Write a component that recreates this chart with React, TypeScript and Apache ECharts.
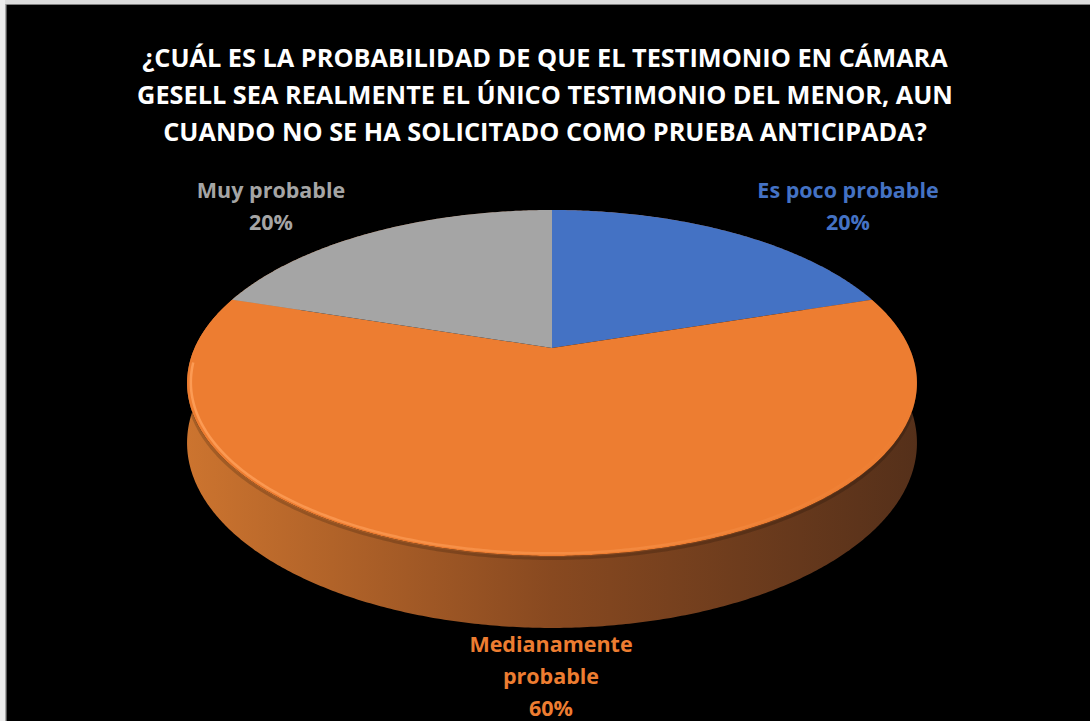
import React, { useEffect, useRef } from "react";
import * as echarts from "echarts";

const TITLE =
  "¿CUÁL ES LA PROBABILIDAD DE QUE EL TESTIMONIO EN CÁMARA\nGESELL SEA REALMENTE EL ÚNICO TESTIMONIO DEL MENOR, AUN\nCUANDO NO SE HA SOLICITADO COMO PRUEBA ANTICIPADA?";
const CATEGORIES = ["Es poco probable", "Medianamente probable", "Muy probable"];
const VALUES = [20, 60, 20];
const COLORS = ["#4472C4", "#ED7D31", "#A5A5A5"];

const TOTAL = VALUES.reduce((a, b) => a + b, 0);
const STARTS = VALUES.map((_, i) => VALUES.slice(0, i).reduce((a, b) => a + b, 0) / TOTAL * 360);

// 3D pie projection layout
const CX = 552;
const CY = 348;
const AY = 165.9;
const BX = 357.4;
const K = 0.2023;
const DEPTH = 57.4;
const LABEL_POS = [
  [848, 205],
  [551, 675],
  [271, 205],
];
const LABEL_FONT = 'bold 21.5px "Open Sans"';

function proj(deg: number, r = 1): number[] {
  const p = (deg * Math.PI) / 180;
  const u = r * Math.sin(p);
  const v = r * Math.cos(p);
  const s = 1 / (1 + K * v);
  return [CX + BX * u * s, CY - AY * v * s];
}
function depth(deg: number): number {
  const p = (deg * Math.PI) / 180;
  return DEPTH / (1 + K * Math.cos(p));
}
function arc(a0: number, a1: number, r = 1): number[][] {
  const pts: number[][] = [];
  const n = Math.max(2, Math.ceil(Math.abs(a1 - a0) / 0.5));
  for (let j = 0; j <= n; j++) pts.push(proj(a0 + ((a1 - a0) * j) / n, r));
  return pts;
}

export default function App() {
  const ref = useRef<HTMLDivElement>(null);
  useEffect(() => {
    if (!ref.current) return;
    const chart = echarts.init(ref.current, undefined, { renderer: "svg" });
    const sideGrad = () =>
      new echarts.graphic.LinearGradient(0, 0, 1, 0, [
        { offset: 0, color: "#cc742f" },
        { offset: 0.5, color: "#884920" },
        { offset: 1, color: "#55301a" },
      ]);
    const option: any = {
      animation: false,
      backgroundColor: "#000000",
      graphic: [
        { type: "rect", shape: { x: 0, y: 0, width: 1090, height: 4 }, style: { fill: "#dcdcdc" }, z: 100 },
        { type: "rect", shape: { x: 0, y: 4, width: 1090, height: 1 }, style: { fill: "#808080" }, z: 100 },
        { type: "rect", shape: { x: 0, y: 0, width: 5, height: 721 }, style: { fill: "#ececec" }, z: 100 },
        { type: "rect", shape: { x: 5, y: 4, width: 1.5, height: 717 }, style: { fill: "#a8a8a8" }, z: 100 },
        {
          type: "text",
          x: 545,
          y: 94,
          style: {
            text: TITLE,
            fill: "#ffffff",
            font: 'bold 25.3px "Open Sans"',
            align: "center",
            verticalAlign: "middle",
            lineHeight: 37,
          },
          z: 50,
        },
      ],
      series: [
        {
          type: "custom",
          coordinateSystem: "none",
          data: VALUES.map((v, i) => ({ name: CATEGORIES[i], value: v })),
          renderItem: (params: any, api: any) => {
            const i = params.dataIndex;
            const v = api.value(0);
            const a0 = STARTS[i];
            const a1 = a0 + (v / TOTAL) * 360;
            const top = arc(a0, a1);
            const bottom = top
              .map((p, j) => {
                const deg = a0 + ((a1 - a0) * j) / (top.length - 1);
                return [p[0], p[1] + depth(deg)];
              })
              .reverse();
            const children: any[] = [
              {
                type: "polygon",
                shape: { points: top.concat(bottom) },
                style: { fill: sideGrad() },
                z2: 1,
              },
              {
                type: "polygon",
                shape: { points: [[CX, CY]].concat(top) },
                style: { fill: COLORS[i] },
                z2: 10,
              },
            ];
            // front rim highlight (bevel)
            const fa0 = Math.max(a0, 95);
            const fa1 = Math.min(a1, 265);
            if (fa1 > fa0) {
              children.push({
                type: "polyline",
                shape: { points: arc(fa0, fa1, 0.99) },
                style: {
                  fill: null,
                  lineWidth: 2.5,
                  stroke: new echarts.graphic.LinearGradient(0, 0, 1, 0, [
                    { offset: 0, color: "rgba(255,160,90,0.85)" },
                    { offset: 0.55, color: "rgba(255,160,90,0.4)" },
                    { offset: 1, color: "rgba(255,160,90,0)" },
                  ]),
                },
                z2: 11,
              });
              children.push({
                type: "polyline",
                shape: { points: arc(fa0, fa1, 1).map((p) => [p[0], p[1] + 2.5]) },
                style: {
                  fill: null,
                  lineWidth: 3,
                  stroke: "rgba(0,0,0,0.18)",
                },
                z2: 2,
              });
            }
            const pct = Math.round((v / TOTAL) * 100) + "%";
            const name = CATEGORIES[i].length > 18 ? CATEGORIES[i].replace(" ", "\n") : CATEGORIES[i];
            children.push({
              type: "text",
              x: LABEL_POS[i][0],
              y: LABEL_POS[i][1],
              style: {
                text: name + "\n" + pct,
                fill: COLORS[i],
                font: LABEL_FONT,
                align: "center",
                verticalAlign: "middle",
                lineHeight: 32,
              },
              z2: 20,
            });
            return { type: "group", children };
          },
        },
      ],
    };
    chart.setOption(option);
    return () => chart.dispose();
  }, []);
  return (
    <div
      ref={ref}
      style={{ position: "fixed", left: 0, top: 0, width: 1090, height: 721 }}
    />
  );
}
